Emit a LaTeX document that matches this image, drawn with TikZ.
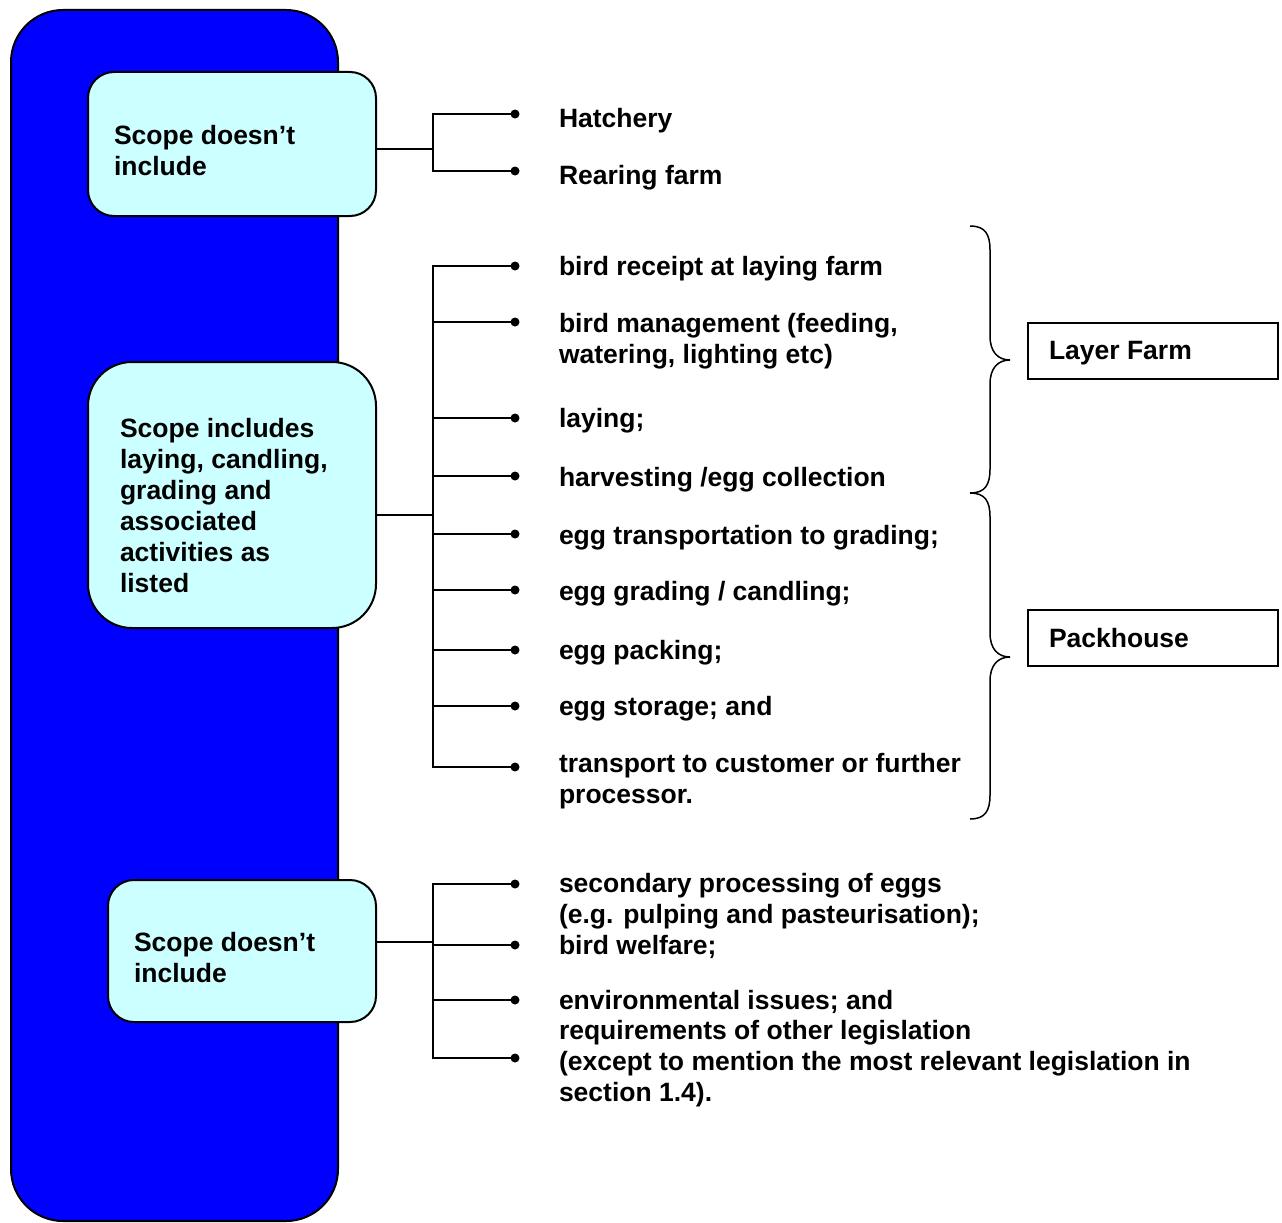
\documentclass[tikz,border=0pt]{standalone}
\usepackage{fontspec}
\setmainfont{Liberation Sans}
\definecolor{barblue}{RGB}{0,0,255}
\definecolor{boxcyan}{RGB}{204,255,255}
\begin{document}
\begin{tikzpicture}[x=1pt,y=-1pt,
  bigbar/.style={draw=black,fill=barblue,line width=2pt,rounded corners=52pt,rectangle,inner sep=0pt,outer sep=0pt},
  scopebox/.style={draw=black,fill=boxcyan,line width=2pt,rectangle,inner sep=0pt,outer sep=0pt},
  tagbox/.style={draw=black,fill=white,line width=1.5pt,rectangle,inner sep=0pt,outer sep=0pt,minimum width=250pt,minimum height=56pt},
  txt/.style={font=\fontsize{26.5}{31}\selectfont\bfseries,anchor=base west,align=left,inner sep=0pt,outer sep=0pt},
  bul/.style={circle,fill=black,inner sep=0pt,minimum size=9pt,outer sep=0pt},
  conn/.style={line width=1.5pt,draw=black},
  brace/.style={line width=1.5pt,draw=black}]
\useasboundingbox (0,0) rectangle (1282,1223);

% blue bar
\node[bigbar,minimum width=327pt,minimum height=1211pt] (bar) at (174.5,615.5) {};

% scope boxes
\node[scopebox,rounded corners=26pt,minimum width=288pt,minimum height=144pt] (box1) at (232,144) {};
\node[scopebox,rounded corners=44pt,minimum width=288pt,minimum height=266pt] (box2) at (232,495) {};
\node[scopebox,rounded corners=26pt,minimum width=268pt,minimum height=142pt] (box3) at (242,951) {};

% (base anchor of a multi-line text = baseline of its last line)
\node[txt] (t1) at (114,175) {Scope doesn’t\\include};
\node[txt] (t2) at (120,592) {Scope includes\\laying, candling,\\grading and\\associated\\activities as\\listed};
\node[txt] (t3) at (134,982) {Scope doesn’t\\include};

% ---------- top group
\coordinate (j1) at (433,149);
\node[bul] (b11) at (515,114) {};
\node[bul] (b12) at (515,171) {};
\draw[conn] (j1 -| box1.east) -- (j1);
\draw[conn] (j1) |- (b11);
\draw[conn] (j1) |- (b12);
\node[txt] (h1) at (559,127) {Hatchery};
\node[txt] (h2) at (559,184) {Rearing farm};

% ---------- middle group
\coordinate (j2) at (433,515);
\draw[conn] (j2 -| box2.east) -- (j2);
\foreach \n/\y in {1/266,2/322,3/418,4/476,5/534,6/590,7/650,8/706,9/767}{
  \node[bul] (m\n) at (515,\y) {};
  \draw[conn] (j2) |- (m\n);
}
\node[txt] (i1) at (559,275) {bird receipt at laying farm};
\node[txt] (i2) at (559,363) {bird management (feeding,\\watering, lighting etc)};
\node[txt] (i3) at (559,427) {laying;};
\node[txt] (i4) at (559,486) {harvesting /egg collection};
\node[txt] (i5) at (559,544) {egg transportation to grading;};
\node[txt] (i6) at (559,600) {egg grading / candling;};
\node[txt] (i7) at (559,659) {egg packing;};
\node[txt] (i8) at (559,715) {egg storage; and};
\node[txt] (i9) at (559,803) {transport to customer or further\\processor.};

% braces
\draw[brace] (970,226) .. controls (985,226) and (990,234) .. (990,250) -- (990,336)
  .. controls (990,352) and (998,360) .. (1010,360)
  .. controls (998,360) and (990,368) .. (990,384) -- (990,469)
  .. controls (990,485) and (985,493) .. (970,493);
\draw[brace] (970,493) .. controls (985,493) and (990,501) .. (990,517) -- (990,633)
  .. controls (990,649) and (998,657) .. (1010,657)
  .. controls (998,657) and (990,665) .. (990,681) -- (990,795)
  .. controls (990,811) and (985,819) .. (970,819);

\node[tagbox] (lf) at (1153,351) {};
\node[txt] (lft) at (1049,359) {Layer Farm};
\node[tagbox] (ph) at (1153,638) {};
\node[txt] (pht) at (1049,647) {Packhouse};

% ---------- bottom group
\coordinate (j3) at (433,942);
\draw[conn] (j3 -| box3.east) -- (j3);
\foreach \n/\y in {1/884,2/945,3/1000,4/1058}{
  \node[bul] (n\n) at (515,\y) {};
  \draw[conn] (j3) |- (n\n);
}
\node[txt] (k1) at (559,923) {secondary processing of eggs\\(e.g. pulping and pasteurisation);};
\node[txt] (k2) at (559,954) {bird welfare;};
\node[txt] (k3) at (559,1009) {environmental issues; and};
\node[txt] (k4) at (559,1101) {requirements of other legislation\\(except to mention the most relevant legislation in\\section 1.4).};
\end{tikzpicture}
\end{document}
